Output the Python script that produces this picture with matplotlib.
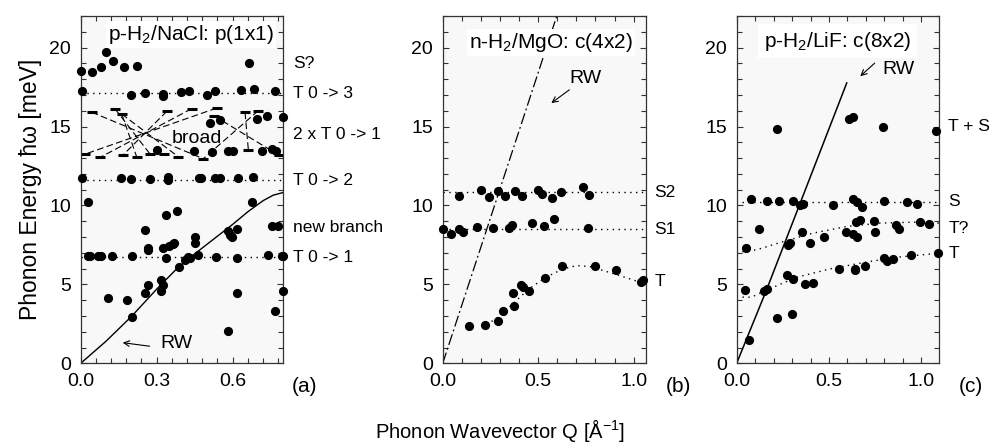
import matplotlib
matplotlib.use('Agg')
import matplotlib.pyplot as plt
from matplotlib.ticker import MultipleLocator

plt.rcParams['font.family'] = ['Liberation Sans', 'DejaVu Sans']
plt.rcParams['mathtext.fontset'] = 'custom'
plt.rcParams['mathtext.rm'] = 'Liberation Sans'
plt.rcParams['mathtext.it'] = 'Liberation Sans:italic'

# ---------------- (a) p-H2/NaCl ----------------
a_q = [0.0, 0.046, 0.079, 0.099, 0.129, 0.171, 0.221, 0.665,            # S?
       0.004, 0.2, 0.253, 0.325, 0.325, 0.395, 0.428, 0.5, 0.531, 0.632, 0.685, 0.768,  # T 0->3
       0.51, 0.549, 0.696, 0.735, 0.797,                                   # upper 2xT
       0.303, 0.448, 0.52, 0.58, 0.6, 0.715, 0.757, 0.773,                 # lower 2xT
       0.004, 0.158, 0.198, 0.273, 0.343, 0.343, 0.467, 0.477, 0.53, 0.549, 0.622, 0.681,  # T 0->2
       0.028, 0.028, 0.037, 0.067, 0.08, 0.122, 0.204,
       0.109, 0.182, 0.204, 0.254, 0.254, 0.264, 0.264, 0.264,
       0.317, 0.317, 0.326, 0.326, 0.336, 0.336, 0.35, 0.366, 0.37,
       0.379, 0.388, 0.412, 0.425, 0.432, 0.451, 0.451, 0.462, 0.533,
       0.583, 0.589, 0.596, 0.616, 0.616, 0.616, 0.583, 0.678,
       0.738, 0.757, 0.78, 0.767, 0.793, 0.8, 0.8]
a_e = [18.54, 18.43, 18.8, 19.7, 19.13, 18.75, 18.86, 19.03,
       17.23, 17.0, 17.12, 17.06, 16.95, 17.2, 17.25, 17.0, 17.27, 17.33, 17.37, 17.23,
       15.22, 15.43, 15.47, 15.64, 15.6,
       13.52, 13.42, 13.38, 13.46, 13.42, 13.48, 13.57, 13.42,
       11.73, 11.73, 11.7, 11.7, 11.62, 11.82, 11.73, 11.73, 11.73, 11.73, 11.76, 11.78,
       10.25, 6.81, 6.81, 6.81, 6.81, 6.81, 6.81,
       4.12, 4.02, 2.96, 8.46, 4.44, 4.97, 7.29, 7.15,
       5.29, 4.59, 4.95, 7.29, 9.37, 6.7, 7.4, 7.57, 7.61,
       9.66, 6.13, 6.55, 6.72, 6.64, 8.03, 7.61, 6.87, 6.72,
       8.35, 8.14, 7.99, 8.5, 6.66, 4.44, 2.07, 10.19,
       6.87, 8.71, 8.71, 3.32, 6.77, 6.77, 4.59]

# broad features: bars at top and bottom, joined by dashed lines
bar_up_q = [0.043, 0.135, 0.162, 0.34, 0.438, 0.537, 0.526, 0.649, 0.701]
bar_up_e = [15.91, 16.13, 15.79, 15.96, 16.13, 16.17, 15.68, 15.89, 16.0]
bar_low_q = [0.017, 0.076, 0.168, 0.221, 0.274, 0.33, 0.386, 0.484, 0.662, 0.784]
bar_low_e = [13.25, 13.04, 13.21, 13.08, 13.25, 13.25, 13.08, 12.96, 13.53, 13.17]
broad_links = [(0, 7), (1, 4), (2, 3), (2, 6), (3, 2), (4, 1), (5, 0), (6, 9), (7, 8), (8, 7)]

a_rw_q = [0, 0.1, 0.2, 0.3, 0.38, 0.45, 0.53, 0.6, 0.66, 0.72, 0.76, 0.8]
a_rw_e = [0, 1.4, 2.96, 4.7, 6.0, 6.93, 7.93, 8.8, 9.6, 10.3, 10.65, 10.82]
a_levels = [17.1, 11.62, 6.75]
a_labels = ['S?', 'T 0 -> 3', '2 x T 0 -> 1', 'T 0 -> 2', 'new branch', 'T 0 -> 1']
a_label_e = [19.0, 17.1, 14.5, 11.6, 8.6, 6.7]

# ---------------- (b) n-H2/MgO ----------------
b_s2_q = [0.087, 0.2, 0.241, 0.29, 0.328, 0.377, 0.415, 0.501, 0.52, 0.571, 0.62, 0.736, 0.764]
b_s2_e = [10.59, 10.95, 10.53, 10.91, 10.63, 10.89, 10.59, 10.95, 10.74, 10.47, 10.85, 11.2, 10.68]
b_s1_q = [0.0, 0.044, 0.084, 0.105, 0.18, 0.262, 0.346, 0.363, 0.466, 0.532, 0.581, 0.759]
b_s1_e = [8.52, 8.16, 8.52, 8.31, 8.63, 8.56, 8.56, 8.73, 8.88, 8.69, 9.15, 8.58]
b_t_q = [0.136, 0.223, 0.288, 0.314, 0.375, 0.37, 0.41, 0.422, 0.45, 0.536, 0.623, 0.798, 0.908, 1.038, 1.05]
b_t_e = [2.39, 2.45, 2.66, 3.34, 3.62, 4.46, 4.93, 4.82, 4.57, 5.39, 6.15, 6.19, 5.94, 5.18, 5.29]
b_tfit_q = [0.23, 0.3, 0.37, 0.45, 0.54, 0.63, 0.7, 0.77, 0.87, 0.98, 1.06]
b_tfit_e = [2.45, 3.0, 3.8, 4.7, 5.45, 5.98, 6.19, 6.13, 5.77, 5.35, 5.03]
b_levels = [10.85, 8.48]
b_rw_q = [0, 0.6]
b_rw_e = [0, 22.1]
b_labels = ['S2', 'S1', 'T']
b_label_e = [10.85, 8.45, 5.2]

# ---------------- (c) p-H2/LiF ----------------
c_q = [0.217, 0.61, 0.631, 0.79, 1.079,
       0.076, 0.166, 0.227, 0.303, 0.343, 0.361, 0.523, 0.628, 0.65, 0.677, 0.8, 0.924, 0.978,
       0.049, 0.123, 0.28, 0.289, 0.352, 0.397, 0.473, 0.592, 0.632, 0.65, 0.646, 0.668,
       0.745, 0.749, 0.861, 0.881, 0.993, 1.042,
       0.045, 0.15, 0.166, 0.274, 0.307, 0.37, 0.415, 0.556, 0.641, 0.641, 0.697,
       0.798, 0.812, 0.848, 0.944, 1.088,
       0.069, 0.217, 0.3]
c_e = [14.86, 15.49, 15.6, 14.94, 14.73,
       10.4, 10.3, 10.3, 10.3, 10.0, 10.08, 10.0, 10.42, 10.21, 9.89, 10.3, 10.21, 10.08,
       7.29, 8.5, 7.5, 7.61, 8.29, 7.61, 7.97, 8.29, 8.18, 8.03, 8.92, 9.09,
       8.99, 8.31, 8.73, 8.5, 8.94, 8.84,
       4.65, 4.61, 4.69, 5.6, 5.33, 5.01, 5.07, 5.98, 5.98, 5.88, 6.17,
       6.66, 6.45, 6.62, 6.83, 6.98,
       1.48, 2.9, 3.13]
c_s_level = 10.21
c_tq_q = [0.0, 0.108, 0.235, 0.415, 0.596, 0.776, 0.957, 1.1]
c_tq_e = [7.02, 7.19, 7.65, 8.25, 8.67, 8.88, 8.94, 8.88]
c_t_q = [0.0, 0.081, 0.144, 0.325, 0.505, 0.686, 0.866, 1.1]
c_t_e = [4.19, 4.19, 4.55, 5.45, 5.98, 6.38, 6.72, 6.98]
c_rw_q = [0, 0.16, 0.596]
c_rw_e = [0, 4.6, 17.76]
c_labels = ['T + S', 'S', 'T?', 'T']
c_label_e = [15.0, 10.25, 8.55, 6.95]

DOT = (0, (1, 3.2))
MS = 5.6


def style_axis(ax, xmax, major, minor):
    ax.set_facecolor('#f8f8f8')
    ax.set_xlim(0, xmax)
    ax.set_ylim(0, 22)
    ax.xaxis.set_major_locator(MultipleLocator(major))
    ax.xaxis.set_minor_locator(MultipleLocator(minor))
    ax.yaxis.set_major_locator(MultipleLocator(5))
    ax.yaxis.set_minor_locator(MultipleLocator(1))
    ax.tick_params(which='both', direction='in', top=True, right=True,
                   labelsize=14, pad=7, color='#333333')
    ax.tick_params(which='major', length=4, width=0.8)
    ax.tick_params(which='minor', length=3.5, width=0.8)
    for s in ax.spines.values():
        s.set_linewidth(0.9)
        s.set_color('#333333')


fig = plt.figure(figsize=(9.94, 4.46), dpi=100)
ax_a = fig.add_axes([0.0812, 0.1854, 0.2038, 0.7787])
ax_b = fig.add_axes([0.4454, 0.1854, 0.2042, 0.7787])
ax_c = fig.add_axes([0.7411, 0.1854, 0.2035, 0.7787])

# --- panel (a)
style_axis(ax_a, 0.8, 0.3, 0.06)
for lev in a_levels:
    ax_a.axhline(lev, color='k', lw=1, ls=DOT)
for iu, il in broad_links:
    ax_a.plot([bar_up_q[iu], bar_low_q[il]], [bar_up_e[iu], bar_low_e[il]],
              color='k', lw=0.8, ls=(0, (6, 3)))
ax_a.plot(bar_up_q, bar_up_e, ls='none', marker='_', ms=7, mew=2.2, color='k')
ax_a.plot(bar_low_q, bar_low_e, ls='none', marker='_', ms=7, mew=2.2, color='k')
ax_a.plot(a_rw_q, a_rw_e, color='k', lw=1)
ax_a.plot(a_q, a_e, 'o', color='k', ms=MS, clip_on=False, zorder=4)
ax_a.text(0.458, 14.27, 'broad', fontsize=14, ha='center', va='center')
ax_a.text(0.435, 20.85, 'p-H$_2$/NaCl: p(1x1)', fontsize=15, ha='center', va='center',
          bbox=dict(facecolor='white', edgecolor='none', pad=1.5), zorder=5)
ax_a.annotate('', xy=(0.155, 1.33), xytext=(0.283, 1.06),
              arrowprops=dict(arrowstyle='->', lw=0.8, color='k'))
ax_a.text(0.379, 1.27, 'RW', fontsize=14, ha='center', va='center')
for lab, e in zip(a_labels, a_label_e):
    ax_a.text(0.838, e, lab, fontsize=12.5, ha='left', va='center', clip_on=False)
ax_a.text(0.885, -1.5, '(a)', fontsize=15, ha='center', va='center')

# --- panel (b)
style_axis(ax_b, 1.063, 0.5, 0.1)
for lev in b_levels:
    ax_b.axhline(lev, color='k', lw=1, ls=DOT)
ax_b.plot(b_tfit_q, b_tfit_e, color='k', lw=1, ls=DOT)
ax_b.plot(b_rw_q, b_rw_e, color='k', lw=0.9, ls=(0, (9, 2.5, 1.5, 2.5)))
ax_b.plot(b_s2_q, b_s2_e, 'o', color='k', ms=MS, clip_on=False, zorder=4)
ax_b.plot(b_s1_q, b_s1_e, 'o', color='k', ms=MS, clip_on=False, zorder=4)
ax_b.plot(b_t_q, b_t_e, 'o', color='k', ms=MS, clip_on=False, zorder=4)
ax_b.text(0.567, 20.3, 'n-H$_2$/MgO: c(4x2)', fontsize=15, ha='center', va='center',
          bbox=dict(facecolor='white', edgecolor='none', pad=1.5), zorder=5)
ax_b.annotate('', xy=(0.557, 16.38), xytext=(0.675, 17.43),
              arrowprops=dict(arrowstyle='->', lw=0.8, color='k'))
ax_b.text(0.745, 18.06, 'RW', fontsize=14, ha='center', va='center')
for lab, e in zip(b_labels, b_label_e):
    ax_b.text(1.11, e, lab, fontsize=12.5, ha='left', va='center', clip_on=False)
ax_b.text(1.235, -1.5, '(b)', fontsize=15, ha='center', va='center')

# --- panel (c)
style_axis(ax_c, 1.095, 0.5, 0.1)
ax_c.plot([0.03, 1.095], [c_s_level, c_s_level], color='k', lw=1, ls=DOT)
ax_c.plot(c_tq_q, c_tq_e, color='k', lw=1, ls=DOT)
ax_c.plot(c_t_q, c_t_e, color='k', lw=1, ls=DOT)
ax_c.plot(c_rw_q, c_rw_e, color='k', lw=1.1)
ax_c.plot(c_q, c_e, 'o', color='k', ms=MS, clip_on=False, zorder=4)
ax_c.text(0.548, 20.4, 'p-H$_2$/LiF: c(8x2)', fontsize=15, ha='center', va='center',
          bbox=dict(facecolor='white', edgecolor='none', pad=4), zorder=5)
ax_c.annotate('', xy=(0.658, 18.07), xytext=(0.758, 19.13),
              arrowprops=dict(arrowstyle='->', lw=0.8, color='k'))
ax_c.text(0.875, 18.6, 'RW', fontsize=14, ha='center', va='center')
for lab, e in zip(c_labels, c_label_e):
    ax_c.text(1.146, e, lab, fontsize=12.5, ha='left', va='center', clip_on=False)
ax_c.text(1.27, -1.5, '(c)', fontsize=15, ha='center', va='center')

ax_a.set_ylabel('Phonon Energy ħω [meV]', fontsize=16.5, labelpad=5)
fig.text(0.503, 0.035, 'Phonon Wavevector Q [Å$^{-1}$]', fontsize=14.5, ha='center', va='center')

plt.savefig('out.png', dpi=100)
plt.close()
